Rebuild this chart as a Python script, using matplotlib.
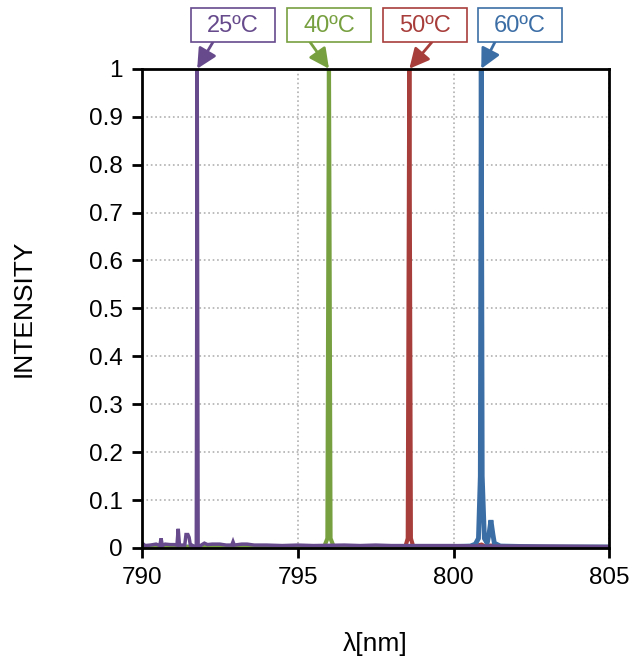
import matplotlib
matplotlib.use("Agg")
from matplotlib import pyplot as plt
from matplotlib.patches import Rectangle

plt.rcParams['font.family'] = ['Liberation Sans', 'DejaVu Sans']

# spectra (wavelength nm, normalised intensity)
wl_25 = [790.0, 790.1, 790.26, 790.45, 790.57, 790.61, 790.65, 790.74, 790.9, 791.03,
         791.12, 791.16, 791.2, 791.29, 791.37, 791.41, 791.47, 791.51, 791.55, 791.6,
         791.74, 791.77, 791.8, 791.9, 792.0, 792.1, 792.25, 792.5, 792.7, 792.88,
         792.92, 792.96, 793.2, 793.37, 793.6, 794.0, 794.5, 795.0, 795.5, 796.5,
         797.0, 797.5, 798.0, 799.0, 800.0, 801.0, 803.0, 805.0]
int_25 = [0.01, 0.005, 0.006, 0.008, 0.005, 0.02, 0.005, 0.008, 0.007, 0.007,
          0.006, 0.04, 0.006, 0.006, 0.006, 0.028, 0.028, 0.022, 0.006, 0.006,
          0.0, 1.0, 0.0, 0.006, 0.01, 0.007, 0.008, 0.008, 0.006, 0.006,
          0.013, 0.006, 0.008, 0.008, 0.006, 0.006, 0.005, 0.006, 0.005, 0.006,
          0.005, 0.006, 0.005, 0.005, 0.005, 0.004, 0.004, 0.003]

wl_40 = [790.0, 792.0, 794.0, 795.85, 795.95, 796.0, 796.05, 796.15, 798.0, 800.0, 802.0, 805.0]
int_40 = [0.002, 0.002, 0.002, 0.003, 0.02, 1.0, 0.02, 0.003, 0.002, 0.002, 0.002, 0.002]

wl_50 = [790.0, 792.0, 795.0, 798.45, 798.53, 798.58, 798.63, 798.71, 800.5, 800.9,
         801.05, 801.2, 801.4, 803.0, 805.0]
int_50 = [0.001, 0.001, 0.001, 0.002, 0.02, 1.0, 0.02, 0.002, 0.002, 0.007,
          0.002, 0.005, 0.001, 0.001, 0.001]

wl_60 = [790.84, 792.0, 794.0, 796.0, 798.0, 800.0, 800.54, 800.7, 800.8, 800.86,
         800.89, 800.92, 800.99, 801.08, 801.14, 801.2, 801.26, 801.31, 801.5, 803.0, 805.0]
int_60 = [0.002, 0.002, 0.002, 0.002, 0.002, 0.003, 0.004, 0.008, 0.02, 0.15,
          1.0, 0.15, 0.02, 0.01, 0.03, 0.058, 0.03, 0.01, 0.004, 0.002, 0.002]

labels = ['25ºC', '40ºC', '50ºC', '60ºC']
peaks = [791.77, 796.0, 798.58, 800.89]
colors = ['#664a8c', '#77a040', '#a83e3b', '#3c6ea6']

fig = plt.figure(figsize=(6.4, 6.61), dpi=100)
ax = fig.add_axes([0.222, 0.171, 0.730, 0.725])

ax.plot(wl_50, int_50, color=colors[2], lw=3, solid_joinstyle='miter')
ax.plot(wl_60, int_60, color=colors[3], lw=3.5, solid_joinstyle='miter')
ax.plot(wl_40, int_40, color=colors[1], lw=3, solid_joinstyle='miter')
ax.plot(wl_25, int_25, color=colors[0], lw=2.5, solid_joinstyle='miter')

ax.set_xlim(790, 805)
ax.set_ylim(0, 1)
ax.set_xticks([790, 795, 800, 805])
ax.set_yticks([i / 10 for i in range(11)])
ax.set_yticklabels(['0', '0.1', '0.2', '0.3', '0.4', '0.5', '0.6', '0.7', '0.8', '0.9', '1'])
ax.grid(True, color='#b0b0b0', linestyle=':', lw=1.2)
ax.set_axisbelow(True)
for s in ax.spines.values():
    s.set_linewidth(2)
ax.tick_params(direction='out', length=7, width=2, labelsize=17.5, pad=7)
ax.set_xlabel('λ[nm]', fontsize=19, va='center')
ax.xaxis.set_label_coords(0.5, -0.2)
ax.set_ylabel('INTENSITY', fontsize=19, labelpad=38)

# callout boxes at top (figure pixels measured from the top)
box_left = [191, 287, 383, 478]
arrow_from = [213, 310, 432, 495]
W, H = 640, 661
for lab, pk, c, bl, af in zip(labels, peaks, colors, box_left, arrow_from):
    fig.patches.append(Rectangle((bl / W, 1 - 42 / H), 84 / W, 34 / H,
                                 transform=fig.transFigure, fc='white', ec=c, lw=1.2))
    fig.text((bl + 42) / W, 1 - 26 / H, lab, ha='center', va='center',
             fontsize=17, color=c)
    ax.annotate('', xy=(pk, 1.0), xycoords='data',
                xytext=(af / W, 1 - 42 / H), textcoords='figure fraction',
                arrowprops=dict(arrowstyle='-|>', color=c, lw=2, mutation_scale=30,
                                shrinkA=0, shrinkB=0),
                annotation_clip=False)

fig.savefig('out.png', dpi=100)
